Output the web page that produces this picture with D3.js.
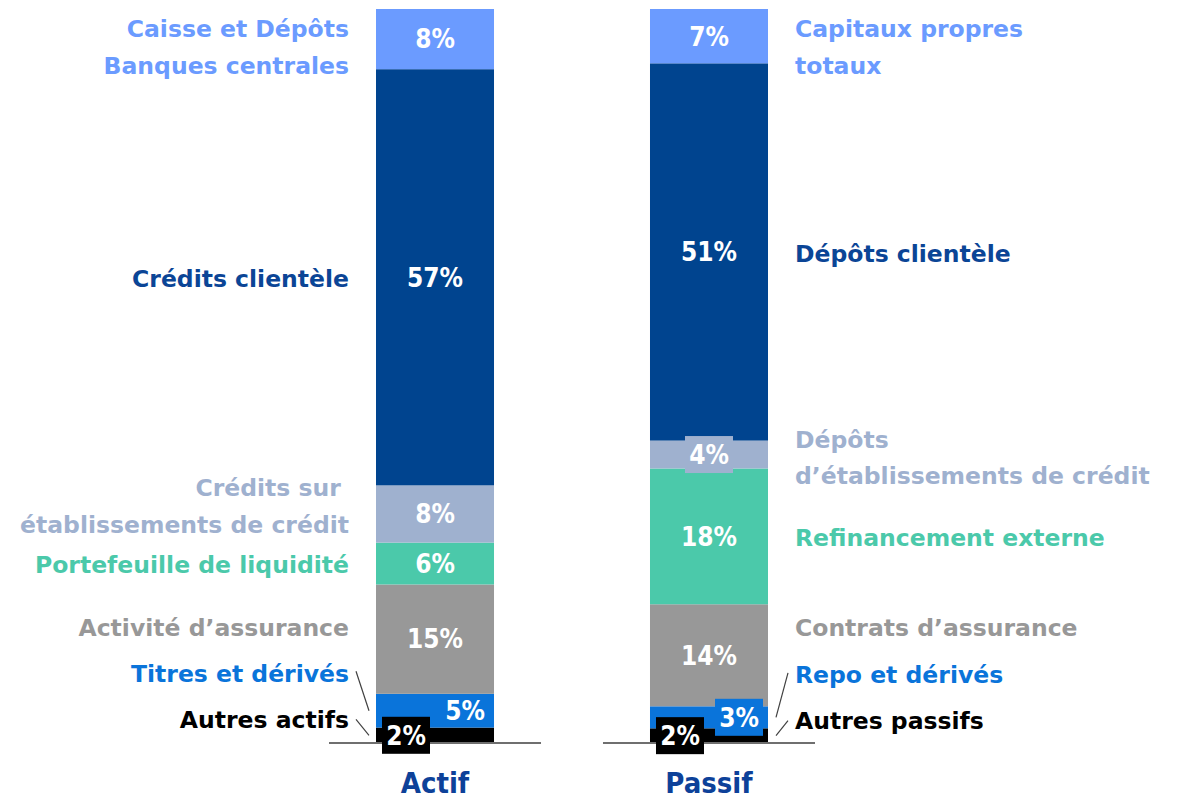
<!DOCTYPE html>
<html>
<head>
<meta charset="utf-8">
<script src="https://cdn.jsdelivr.net/npm/d3@7"></script>
<style>
  body { margin: 0; background: #fff; }
  svg text { font-family: "DejaVu Sans", sans-serif; font-weight: bold; }
  svg text.pct, svg text.cat { font-family: "DejaVu Sans Condensed", "DejaVu Sans", sans-serif; }
</style>
</head>
<body>
<svg id="chart" width="1178" height="799"></svg>
<script>
// data, stacked from the bottom up
var categories = ["Actif", "Passif"];

var actifNames = [["Autres actifs"], ["Titres et dérivés"], ["Activité d’assurance"], ["Portefeuille de liquidité"],
    ["Crédits sur ", "établissements de crédit"], ["Crédits clientèle"], ["Caisse et Dépôts", "Banques centrales"]];
var actifValues = [2.1, 4.6, 14.9, 5.7, 7.8, 56.7, 8.2];
var actifPct = ["2%", "5%", "15%", "6%", "8%", "57%", "8%"];

var passifNames = [["Autres passifs"], ["Repo et dérivés"], ["Contrats d’assurance"], ["Refinancement externe"],
    ["Dépôts", "d’établissements de crédit"], ["Dépôts clientèle"], ["Capitaux propres", "totaux"]];
var passifValues = [2.0, 3.0, 13.9, 18.5, 3.8, 51.4, 7.4];
var passifPct = ["2%", "3%", "14%", "18%", "4%", "51%", "7%"];

var segColors = ["#000000", "#0A74DA", "#989898", "#4BC9AA", "#9FB1CF", "#00448F", "#6B9BFF"];
var textColors = ["#000000", "#0A74DA", "#989898", "#4BC9AA", "#9FB1CF", "#0B4596", "#6B9BFF"];

//-----------------------------------------------------------------------------
// placement of texts (not data)
var place = {
    Actif: {
        side: "left",
        labelDy: [-7.5, -29, -3.5, 9, -17.5, 10, -2],
        pct: ["boxLeft", "right", "c", "c", "c", "c", "c"],
        leader: [true, true, false, false, false, false, false]
    },
    Passif: {
        side: "right",
        labelDy: [-6.5, -34, -19, 10, -7, 10.5, 1],
        pct: ["boxLeft", "boxRight", "c", "c", "boxC", "c", "c"],
        leader: [true, true, false, false, false, false, false]
    }
};

var svg = d3.select("#chart");

var x = d3.scaleBand()
    .domain(categories)
    .range([376, 768])
    .paddingInner(0.5693);

var y = d3.scaleLinear()
    .domain([0, 100])
    .range([743, 9]);

var bw = x.bandwidth();
var labelSize = 23.5, pctSize = 26;

function buildStack(values) {
    var acc = 0;
    return values.map(function(v, i) {
        var d = {i: i, y0: acc, y1: acc + v};
        acc += v;
        return d;
    });
}

var series = {
    Actif: {names: actifNames, pct: actifPct, stack: buildStack(actifValues)},
    Passif: {names: passifNames, pct: passifPct, stack: buildStack(passifValues)}
};

categories.forEach(function(cat) {
    var s = series[cat], p = place[cat];
    var x0 = x(cat);
    var g = svg.append("g").attr("class", "bar-" + cat);

    g.selectAll("rect.seg")
        .data(s.stack)
      .enter().append("rect")
        .attr("class", "seg")
        .attr("x", x0)
        .attr("width", bw)
        .attr("y", d => y(d.y1))
        .attr("height", d => y(d.y0) - y(d.y1))
        .attr("fill", d => segColors[d.i]);

    // baseline
    g.append("line")
        .attr("x1", x0 - 47).attr("x2", x0 + bw + 47)
        .attr("y1", y(0)).attr("y2", y(0))
        .attr("stroke", "#6f6f6f")
        .attr("stroke-width", 2);

    // percentage labels
    s.stack.forEach(function(d) {
        var mid = (y(d.y0) + y(d.y1)) / 2;
        var mode = p.pct[d.i];
        var tx = x0 + bw / 2, anchor = "middle";
        if (mode.indexOf("box") == 0) {
            var bx;
            if (mode == "boxLeft") bx = x0 + 6;
            else if (mode == "boxRight") bx = x0 + bw - 53;
            else bx = x0 + bw / 2 - 24;
            g.append("rect")
                .attr("x", bx).attr("y", mid - 18.5)
                .attr("width", 48).attr("height", 37)
                .attr("fill", segColors[d.i]);
            tx = bx + 24;
        } else if (mode == "right") {
            tx = x0 + bw - 9;
            anchor = "end";
        }
        g.append("text")
            .attr("class", "pct")
            .attr("x", tx)
            .attr("y", mid)
            .attr("dy", "0.36em")
            .attr("text-anchor", anchor)
            .attr("font-size", pctSize + "px")
            .attr("fill", "#fff")
            .text(s.pct[d.i]);
    });

    // category labels and leader lines
    s.stack.forEach(function(d) {
        var mid = (y(d.y0) + y(d.y1)) / 2;
        var base = mid + p.labelDy[d.i];
        var left = p.side == "left";
        var lx = left ? x0 - 27 : x0 + bw + 27;
        var t = g.append("text")
            .attr("x", lx)
            .attr("y", base)
            .attr("text-anchor", left ? "end" : "start")
            .attr("font-size", labelSize + "px")
            .attr("fill", textColors[d.i])
            .attr("xml:space", "preserve");
        s.names[d.i].forEach(function(line, k) {
            t.append("tspan")
                .attr("x", lx)
                .attr("y", base + k * 36.5)
                .text(line);
        });
        if (p.leader[d.i]) {
            var off = d.i == 0 ? 8.5 : 10.5;
            g.append("line")
                .attr("x1", left ? x0 - 20 : x0 + bw + 20)
                .attr("y1", base - off)
                .attr("x2", left ? x0 - 7 : x0 + bw + 8)
                .attr("y2", mid)
                .attr("stroke", "#404040")
                .attr("stroke-width", 1.2);
        }
    });

    svg.append("text")
        .attr("class", "cat")
        .attr("x", x0 + bw / 2)
        .attr("y", 793)
        .attr("text-anchor", "middle")
        .attr("font-size", "29px")
        .attr("fill", "#0D4199")
        .text(cat);
});
</script>
</body>
</html>
